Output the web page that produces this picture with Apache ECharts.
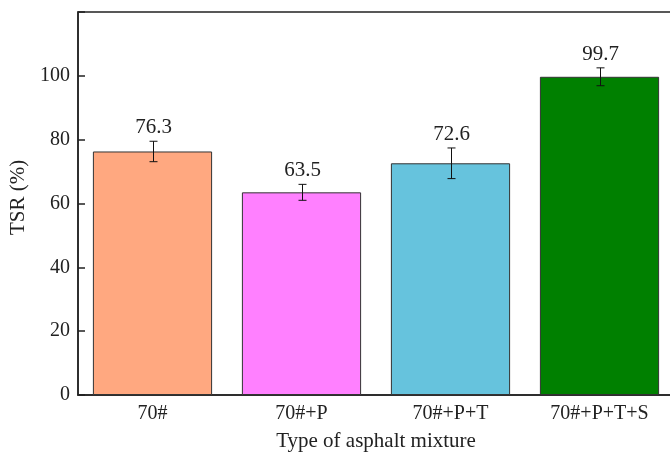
<!DOCTYPE html>
<html>
<head>
<meta charset="utf-8">
<style>html,body{margin:0;padding:0;background:#fff;overflow:hidden;width:670px;height:458px;}#main{width:674px;height:458px;}</style>
<script src="https://cdn.jsdelivr.net/npm/echarts@6/dist/echarts.min.js"></script>
</head>
<body>
<div id="main"></div>
<script>
const categories = ['70#', '70#+P', '70#+P+T', '70#+P+T+S'];
const tsrValues = [76.3, 63.5, 72.6, 99.7];
const tsrErrors = [3.2, 2.5, 4.8, 2.8];
const barColors = ['#FFA880', '#FF80FF', '#66C3DD', '#008000'];
const yTicks = [0, 20, 40, 60, 80, 100, 120];

const FONT = 'Liberation Serif';
const chart = echarts.init(document.getElementById('main'));

const errData = tsrValues.map((v, i) => [i, v - tsrErrors[i], v + tsrErrors[i], v]);

chart.setOption({
  animation: false,
  grid: { left: 78, right: 0, top: 12, bottom: 63, show: true, borderColor: '#222', borderWidth: 1.5, backgroundColor: 'transparent' },
  xAxis: {
    type: 'category',
    data: categories,
    axisLine: { lineStyle: { color: '#222', width: 1.5 } },
    axisTick: { show: false },
    axisLabel: { color: '#222', fontFamily: FONT, fontSize: 20, margin: 9 },
    name: 'Type of asphalt mixture',
    nameLocation: 'middle',
    nameGap: 36,
    nameTextStyle: { color: '#222', fontFamily: FONT, fontSize: 21 }
  },
  yAxis: {
    type: 'value',
    min: 0, max: 120, interval: 20,
    splitLine: { show: false },
    axisLine: { show: true, lineStyle: { color: '#222', width: 1.5 } },
    axisTick: { show: true, inside: true, length: 7, lineStyle: { color: '#222', width: 1.5 } },
    axisLabel: { color: '#222', fontFamily: FONT, fontSize: 20, margin: 8,
      formatter: v => (v === yTicks[yTicks.length - 1] ? '' : String(v)) },
    name: 'TSR (%)',
    nameLocation: 'middle',
    nameGap: 41,
    nameTextStyle: { color: '#222', fontFamily: FONT, fontSize: 21, padding: [8, 0, 0, 12] }
  },
  series: [
    {
      type: 'bar',
      barWidth: '80%',
      data: tsrValues.map((v, i) => ({ value: v, itemStyle: { color: barColors[i] } })),
      itemStyle: { borderColor: '#333', borderWidth: 1 }
    },
    {
      type: 'custom',
      data: errData,
      encode: { x: 0, y: [1, 2] },
      z: 10,
      renderItem: function (params, api) {
        const x = api.value(0);
        const lo = api.coord([x, api.value(1)]);
        const hi = api.coord([x, api.value(2)]);
        const cx = Math.round(lo[0]) + 0.5;
        const cap = 4;
        const style = { stroke: '#111', lineWidth: 1 };
        return {
          type: 'group',
          children: [
            { type: 'line', shape: { x1: cx, y1: hi[1], x2: cx, y2: lo[1] }, style },
            { type: 'line', shape: { x1: cx - cap, y1: hi[1], x2: cx + cap, y2: hi[1] }, style },
            { type: 'line', shape: { x1: cx - cap, y1: lo[1], x2: cx + cap, y2: lo[1] }, style },
            { type: 'text', x: cx, y: hi[1] - 3,
              style: { text: api.value(3).toFixed(1), fill: '#222', font: '21px "' + FONT + '"', align: 'center', verticalAlign: 'bottom' } }
          ]
        };
      }
    }
  ]
});
</script>
</body>
</html>
